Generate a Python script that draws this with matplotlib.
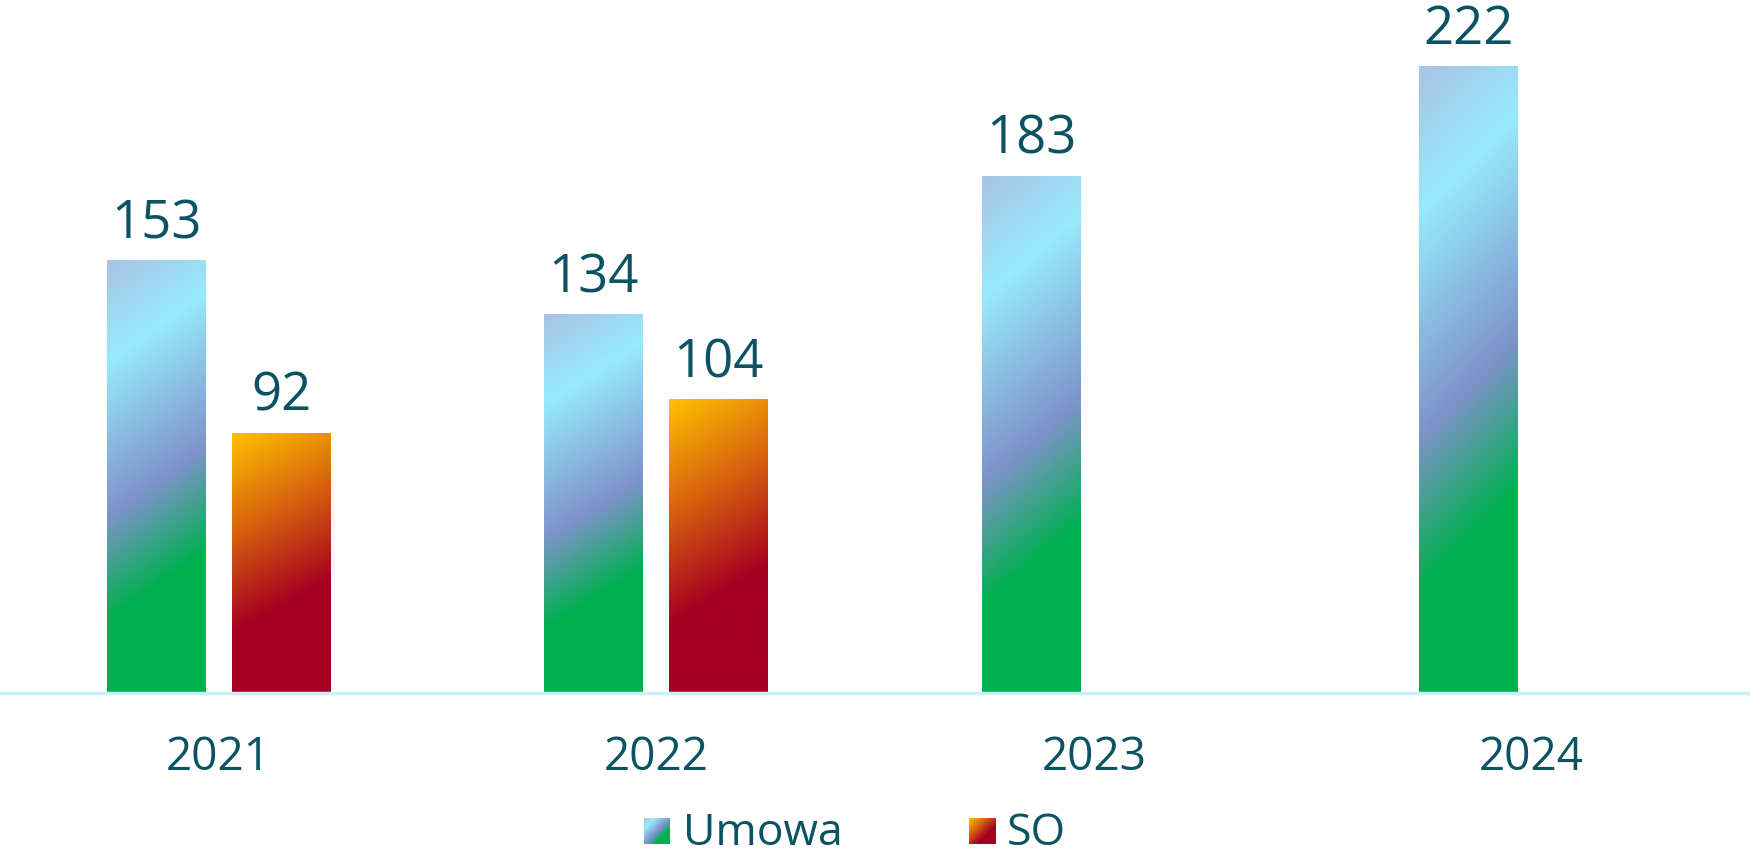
import numpy as np
import matplotlib
matplotlib.use("Agg")
import matplotlib.pyplot as plt
from matplotlib.colors import LinearSegmentedColormap

# data
years = ["2021", "2022", "2023", "2024"]
umowa = [153, 134, 183, 222]
so = [92, 104, None, None]
series_names = ["Umowa", "SO"]

text_color = "#0b5262"
plt.rcParams["font.family"] = ["Open Sans", "DejaVu Sans"]

# gradient colour maps (diagonal, light top-left -> dark bottom)
umowa_cmap = LinearSegmentedColormap.from_list(
    "umowa", [(0.0, "#a9c3e3"), (0.2, "#97eafc"), (0.51, "#7e93cb"),
              (0.72, "#00b050"), (1.0, "#00b050")])
so_cmap = LinearSegmentedColormap.from_list(
    "so", [(0.0, "#fec100"), (0.33, "#d65f0e"), (0.64, "#a50021"),
           (1.0, "#a50021")])


def gradient(k, rows=300, cols=60):
    depth = np.linspace(0, 1, rows)[:, None]
    xn = np.linspace(0, 1, cols)[None, :]
    return (depth + k * xn) / (1 + k)


fig = plt.figure(figsize=(17.5, 8.58), dpi=100)
ax = fig.add_axes([0, (858 - 693) / 858, 1, 693 / 858])

x = np.arange(len(years))
w = 0.226
off = 0.1427


def grad_bars(xpos, vals, cmap, k):
    for xi, v in zip(xpos, vals):
        if v is None:
            continue
        bar = ax.bar(xi, v, width=w, color="none", edgecolor="none")[0]
        x0, y0 = bar.get_x(), bar.get_y()
        ax.imshow(gradient(k), cmap=cmap, vmin=0, vmax=1, aspect="auto",
                  extent=(x0, x0 + bar.get_width(), y0, y0 + bar.get_height()),
                  origin="upper", interpolation="bilinear", zorder=2)
        ax.annotate(str(v), (xi, v), xytext=(0, 16), textcoords="offset points",
                    ha="center", va="baseline", fontsize=38, color=text_color)


grad_bars(x - off, umowa, umowa_cmap, 0.16)
grad_bars(x + off, so, so_cmap, 0.2)

ax.set_xlim(-0.5, 3.5)
ax.set_ylim(0, 245.4)
for s in ["top", "left", "right"]:
    ax.spines[s].set_visible(False)
ax.spines["bottom"].set_color("#c9eff9")
ax.spines["bottom"].set_linewidth(2.5)
ax.spines["bottom"].set_zorder(3)
ax.set_yticks([])
ax.set_xticks(x)
ax.set_xticklabels(years, fontsize=33, color=text_color)
ax.tick_params(axis="x", length=0, pad=30)

# legend drawn by hand so the swatches keep the gradient
legend_items = [(644, 683, umowa_cmap, series_names[0]),
                (969, 1007, so_cmap, series_names[1])]
for px, tx, cmap, name in legend_items:
    lax = fig.add_axes([px / 1750, 14 / 858, 26 / 1750, 26 / 858])
    lax.imshow(gradient(1.0, 40, 40), cmap=cmap, vmin=0, vmax=1, aspect="auto",
               interpolation="bilinear")
    lax.axis("off")
    fig.text(tx / 1750, 2 / 858, name, ha="left", va="bottom",
             fontsize=32, color=text_color)

fig.savefig("out.png", dpi=100)
